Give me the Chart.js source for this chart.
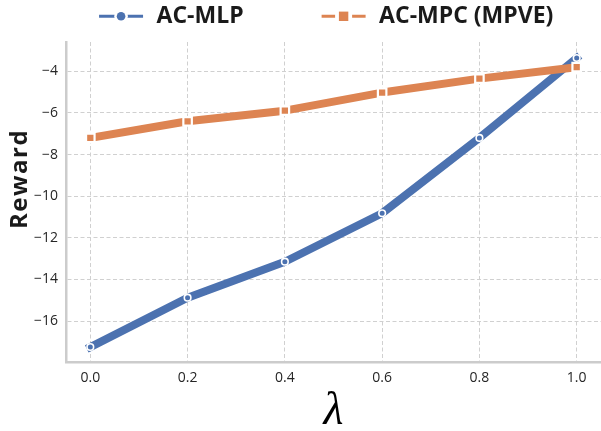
<!DOCTYPE html>
<html><head><meta charset="utf-8">
<script src="https://cdn.jsdelivr.net/npm/chart.js@4.4.1/dist/chart.umd.min.js"></script>
<style>html,body{margin:0;padding:0;background:#fff}#wrap{width:601px;height:431px}canvas{display:block}</style>
</head><body><div id="wrap"><canvas id="c" width="601" height="431"></canvas></div>
<script>
const lambdas = [0.0, 0.2, 0.4, 0.6, 0.8, 1.0];
const acMlp = [-17.25, -14.88, -13.15, -10.82, -7.2, -3.36];
const acMpc = [-7.2, -6.4, -5.89, -5.02, -4.35, -3.8];
const seriesNames = ['AC-MLP', 'AC-MPC (MPVE)'];
const seriesColors = ['#4C72B0', '#DD8452'];
const yTitle = 'Reward';
const xTitle = '\u03bb';

const toPts = arr => lambdas.map((x, i) => ({x: x, y: arr[i]}));
const tickFont = {family: 'Open Sans', size: 14};
const gridCol = '#d0d0d0';
const spineCol = '#cccccc';
const plotRight = 601;

const customDecor = {
  id: 'customDecor',
  afterLayout(chart) {
    // stretch the plot area to the right edge of the canvas (no right spine / margin)
    const ca = chart.chartArea;
    ca.right = plotRight; ca.width = ca.right - ca.left;
    const s = chart.scales.x;
    s.right = plotRight; s.width = s.right - s.left;
    s.configure();
  },
  afterDraw(chart) {
    const ctx = chart.ctx;
    // y-axis title
    ctx.save();
    ctx.translate(26.7, 179);
    ctx.rotate(-Math.PI / 2);
    ctx.font = 'bold 24px "Open Sans"';
    try { ctx.letterSpacing = '1.5px'; } catch (e) {}
    ctx.fillStyle = '#1a1a1a';
    ctx.textAlign = 'center';
    ctx.textBaseline = 'alphabetic';
    ctx.fillText(yTitle, 0, 0);
    ctx.restore();

    // legend
    ctx.save();
    ctx.font = 'bold 23px "Open Sans"';
    const handleW = 44, gapText = 13.5, gapItem = 78;
    const widths = seriesNames.map(n => ctx.measureText(n).width);
    const total = widths.reduce((a, w) => a + handleW + gapText + w, 0) + gapItem * (seriesNames.length - 1);
    let x = 326.2 - total / 2;
    const yLine = 16.3;
    seriesNames.forEach((name, i) => {
      const col = seriesColors[i];
      ctx.strokeStyle = col;
      ctx.lineWidth = 3;
      ctx.lineCap = 'butt';
      ctx.beginPath();
      ctx.moveTo(x, yLine);
      ctx.lineTo(x + handleW, yLine);
      ctx.stroke();
      const cx = x + handleW / 2;
      ctx.fillStyle = '#fff';
      if (i === 0) {
        ctx.beginPath(); ctx.arc(cx, yLine, 6.8, 0, Math.PI * 2); ctx.fill();
        ctx.fillStyle = col;
        ctx.beginPath(); ctx.arc(cx, yLine, 4.3, 0, Math.PI * 2); ctx.fill();
      } else {
        ctx.fillRect(cx - 8.5, yLine - 8.5, 17, 17);
        ctx.fillStyle = col;
        ctx.fillRect(cx - 4.7, yLine - 4.7, 9.4, 9.4);
      }
      ctx.fillStyle = '#1a1a1a';
      ctx.textAlign = 'left';
      ctx.textBaseline = 'alphabetic';
      ctx.fillText(name, x + handleW + gapText, 23.3);
      x += handleW + gapText + widths[i] + gapItem;
    });
    ctx.restore();
  }
};

new Chart(document.getElementById('c'), {
  type: 'line',
  data: {
    datasets: [
      {
        label: seriesNames[0], data: toPts(acMlp), order: 1,
        borderColor: seriesColors[0], backgroundColor: seriesColors[0],
        borderWidth: 8, borderCapStyle: 'square', borderJoinStyle: 'round',
        pointStyle: 'circle', pointRadius: 3.3, pointBorderWidth: 1.6,
        pointBackgroundColor: seriesColors[0], pointBorderColor: '#ffffff',
        tension: 0, clip: false
      },
      {
        label: seriesNames[1], data: toPts(acMpc), order: 0,
        borderColor: seriesColors[1], backgroundColor: seriesColors[1],
        borderWidth: 8, borderCapStyle: 'square', borderJoinStyle: 'round',
        pointStyle: 'rect', pointRadius: 6, pointBorderWidth: 2.2,
        pointBackgroundColor: seriesColors[1], pointBorderColor: '#ffffff',
        tension: 0, clip: false
      }
    ]
  },
  options: {
    responsive: false,
    devicePixelRatio: 1,
    animation: false,
    layout: {padding: {top: 42, left: 0, right: 0, bottom: 0}},
    plugins: {legend: {display: false}, tooltip: {enabled: false}},
    scales: {
      x: {
        type: 'linear', min: -0.05, max: 1.05,
        afterFit: s => { s.height = 69; },
        ticks: {stepSize: 0.2, includeBounds: false, padding: 8, font: tickFont, color: '#262626',
          callback: v => Number(v).toFixed(1)},
        grid: {color: gridCol, lineWidth: 1, drawTicks: false},
        border: {display: true, color: spineCol, width: 2.5, dash: [4, 2.5]},
        title: {display: true, text: xTitle, color: '#000',
          font: {family: 'Liberation Serif', style: 'italic', size: 46},
          padding: {top: 0, bottom: -9}}
      },
      y: {
        type: 'linear', min: -17.97, max: -2.59,
        afterFit: s => { s.width = 66; },
        ticks: {stepSize: 2, includeBounds: false, padding: 8, font: tickFont, color: '#262626',
          callback: v => (v < 0 ? '\u2212' : '') + Math.abs(v)},
        grid: {color: gridCol, lineWidth: 1, drawTicks: false},
        border: {display: true, color: spineCol, width: 2.5, dash: [4, 2.5]}
      }
    }
  },
  plugins: [customDecor]
});
</script>
</body></html>
